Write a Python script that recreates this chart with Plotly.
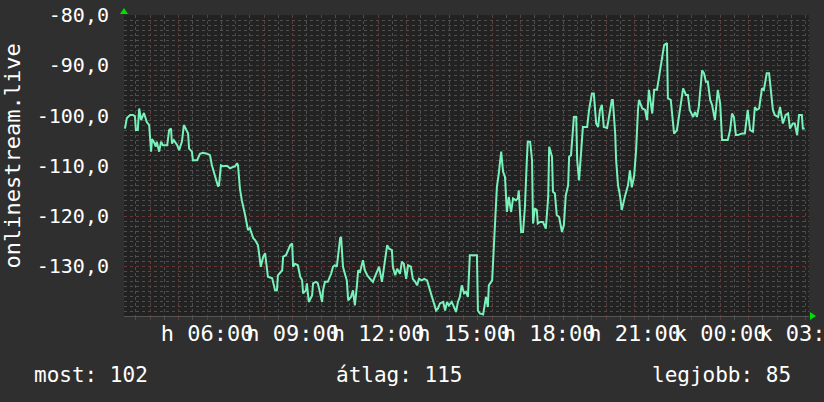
import plotly.graph_objects as go
from datetime import datetime, timedelta

# --- data (minutes after 03:05 on Monday, signal value) ---
start = datetime(2024, 1, 1, 3, 5)
minutes = [2, 6, 13, 19, 23, 25, 29, 32, 36, 42, 48, 53, 57, 59, 63, 67, 69, 74, 78, 82,
           91, 95, 99, 101, 105, 112, 116, 122, 126, 131, 135, 137, 143, 145, 154, 160, 166, 175, 181, 185,
           189, 194, 198, 200, 204, 208, 217, 223, 229, 234, 238, 240, 244, 248, 255, 261, 265, 272, 276, 282,
           288, 293, 297, 301, 303, 312, 314, 318, 322, 324, 333, 335, 341, 345, 350, 354, 356, 360, 366, 371,
           375, 377, 383, 385, 389, 396, 398, 404, 408, 413, 417, 419, 423, 429, 436, 440, 444, 448, 455, 457,
           461, 465, 469, 472, 478, 482, 486, 490, 493, 497, 503, 507, 512, 518, 524, 528, 533, 537, 543, 549,
           554, 558, 564, 566, 571, 575, 581, 585, 589, 594, 598, 604, 608, 613, 617, 621, 627, 632, 638, 642,
           646, 651, 657, 661, 665, 672, 676, 680, 684, 690, 694, 699, 703, 707, 711, 716, 720, 724, 728, 735,
           743, 745, 749, 756, 762, 766, 768, 775, 777, 781, 785, 789, 794, 798, 802, 806, 810, 815, 819, 825,
           829, 831, 836, 840, 844, 848, 850, 855, 859, 861, 865, 869, 871, 876, 882, 888, 893, 895, 901, 903,
           907, 911, 916, 922, 926, 930, 935, 937, 941, 945, 947, 952, 954, 958, 962, 964, 966, 975, 979, 985,
           989, 994, 998, 1002, 1006, 1010, 1017, 1021, 1027, 1029, 1034, 1036, 1040, 1044, 1048, 1055, 1061, 1065, 1069, 1074,
           1078, 1082, 1084, 1091, 1097, 1101, 1105, 1112, 1116, 1122, 1128, 1133, 1137, 1143, 1145, 1151, 1156, 1158, 1164, 1168,
           1172, 1177, 1183, 1187, 1191, 1198, 1202, 1206, 1210, 1217, 1221, 1225, 1229, 1234, 1238, 1240, 1244, 1248, 1250, 1255,
           1259, 1265, 1271, 1276, 1280, 1284, 1288, 1292, 1301, 1307, 1311, 1313, 1318, 1324, 1328, 1332, 1337, 1343, 1347, 1353,
           1358, 1362, 1366, 1370, 1377, 1381, 1385, 1387, 1393, 1398, 1402, 1408, 1412, 1417, 1421, 1427, 1429, 1433]
values = [-102.6, -100.5, -99.9, -99.9, -100.1, -102.9, -102.9, -98.6, -100.9, -99.5, -101.3, -101.9, -107.2, -104.7, -105.3, -106.2, -105.2, -107.2, -105.2, -105.9,
          -105.9, -102.9, -102.6, -105.6, -104.9, -105.9, -106.9, -105.2, -101.9, -102.9, -103.6, -106.6, -107.2, -108.9, -108.9, -107.6, -107.4, -107.6, -107.9, -109.9,
          -111.2, -112.9, -114.1, -113.9, -109.9, -110.1, -110.0, -110.5, -110.3, -110.1, -109.5, -109.9, -114.5, -116.9, -119.8, -122.8, -122.4, -124.4, -124.8, -125.8,
          -130.1, -128.1, -127.4, -130.1, -132.1, -132.4, -133.4, -134.8, -134.8, -131.8, -130.8, -128.1, -127.8, -126.8, -125.8, -125.5, -130.1, -129.5, -129.8, -132.1,
          -132.8, -135.4, -134.8, -133.4, -137.1, -135.8, -133.4, -133.1, -133.4, -135.4, -137.1, -134.8, -133.1, -133.1, -131.5, -130.1, -129.8, -130.1, -124.4, -124.2,
          -130.1, -131.5, -132.8, -136.8, -136.1, -134.8, -137.8, -134.1, -130.8, -131.1, -128.8, -130.8, -131.8, -132.5, -133.1, -132.1, -131.1, -130.1, -133.1, -129.1,
          -125.8, -126.5, -126.8, -130.1, -131.8, -130.5, -131.5, -129.1, -129.5, -132.5, -129.8, -130.1, -132.5, -133.1, -133.8, -132.5, -132.8, -132.5, -132.8, -134.1,
          -135.4, -137.1, -138.8, -138.4, -137.4, -137.1, -138.8, -137.1, -137.8, -137.1, -138.1, -139.1, -137.1, -136.1, -133.8, -135.4, -135.1, -136.1, -127.8, -127.8,
          -127.8, -138.8, -139.4, -139.6, -136.1, -138.1, -133.8, -132.8, -129.1, -120.8, -114.2, -111.5, -107.2, -111.2, -112.2, -119.2, -116.2, -119.2, -116.5, -116.9,
          -116.5, -114.9, -123.2, -123.2, -118.2, -108.9, -105.2, -105.2, -108.9, -121.5, -118.5, -118.8, -121.5, -121.2, -121.2, -122.5, -116.2, -106.2, -108.2, -115.2,
          -115.5, -119.8, -120.2, -123.2, -121.8, -115.9, -113.9, -108.2, -107.9, -102.9, -100.3, -100.3, -108.9, -112.9, -107.9, -103.6, -102.3, -102.3, -98.9, -95.6,
          -95.6, -101.6, -102.3, -98.9, -97.9, -102.3, -102.5, -100.3, -96.9, -96.9, -103.6, -108.9, -113.9, -115.9, -118.8, -115.9, -113.9, -110.9, -114.3, -111.9,
          -106.9, -98.9, -96.9, -98.6, -98.9, -100.9, -94.9, -99.6, -94.9, -94.9, -91.0, -88.6, -86.0, -85.6, -96.6, -96.9, -100.9, -103.6, -102.9, -100.3,
          -97.3, -94.6, -95.9, -95.9, -98.9, -100.3, -99.3, -100.3, -98.3, -91.0, -91.6, -93.3, -93.3, -96.9, -97.9, -98.9, -100.9, -96.9, -94.9, -97.6,
          -104.9, -104.9, -104.9, -102.9, -99.6, -100.3, -103.9, -103.9, -103.6, -103.6, -100.3, -98.9, -102.9, -103.2, -98.3, -98.9, -98.6, -94.6, -94.9, -91.6,
          -91.6, -95.3, -98.9, -99.9, -100.3, -98.3, -100.9, -101.6, -99.9, -99.6, -102.6, -101.6, -101.6, -103.9, -99.9, -99.9, -102.6, -102.6]

y_tick_vals = [-80, -90, -100, -110, -120, -130]
y_tick_text = ["-80,0", "-90,0", "-100,0", "-110,0", "-120,0", "-130,0"]
x_label_hours = {6: "h 06:00", 9: "h 09:00", 12: "h 12:00", 15: "h 15:00", 18: "h 18:00",
                 21: "h 21:00", 24: "k 00:00", 27: "k 03:00"}
legend_items = ["most: 102", "átlag: 115", "legjobb: 85"]
series_name = "onlinestream.live"

times = [start + timedelta(minutes=m) for m in minutes]
day0 = datetime(2024, 1, 1)
tick_vals = [day0 + timedelta(hours=h) for h in range(4, 28)]
tick_text = [x_label_hours.get(h, "") for h in range(4, 28)]

BG = "#2f2f2f"
CANVAS = "#222222"
LINE = "#78f2ba"
MAJOR = "#6a3636"
MINOR = "#4e4e4e"
FONT = "DejaVu Sans Mono"

fig = go.Figure()
fig.add_trace(go.Scatter(x=times, y=values, mode="lines",
                         line=dict(color=LINE, width=2, shape="linear"),
                         hoverinfo="skip", showlegend=False))

fig.update_layout(
    width=824, height=402,
    margin=dict(l=124, r=15, t=15, b=86, autoexpand=False),
    paper_bgcolor=BG, plot_bgcolor=CANVAS,
    font=dict(family=FONT, color="white", size=20),
    showlegend=False,
)
fig.update_xaxes(
    type="date", automargin=False,
    range=[start, start + timedelta(minutes=1442)],
    tickvals=tick_vals, ticktext=tick_text, tickangle=0,
    tickfont=dict(size=22, family=FONT, color="white"),
    ticklabeloverflow="allow", ticklabelstandoff=-5,
    showgrid=True, gridcolor=MAJOR, griddash="dot", gridwidth=1,
    ticks="outside", ticklen=3, tickcolor=MAJOR,
    minor=dict(showgrid=True, gridcolor=MINOR, griddash="dot",
               dtick=30 * 60 * 1000, tick0="2024-01-01 03:00",
               ticks="outside", ticklen=3, tickcolor=MINOR),
    showline=True, linecolor="#555555", linewidth=1,
    zeroline=False, fixedrange=True,
)
fig.update_yaxes(
    automargin=False,
    range=[-139.9, -80],
    tickvals=y_tick_vals, ticktext=y_tick_text,
    tickfont=dict(size=20, family=FONT, color="white"),
    ticklabelstandoff=14,
    showgrid=True, gridcolor=MAJOR, griddash="dot", gridwidth=1,
    minor=dict(showgrid=True, gridcolor=MINOR, griddash="dot", dtick=1, tick0=0),
    showline=False, zeroline=False, fixedrange=True,
)

# rotated series label
fig.add_annotation(text=series_name, textangle=-90, xref="paper", yref="paper",
                   x=-0.1635, y=0.53, xanchor="center", yanchor="middle", showarrow=False,
                   font=dict(size=22, family=FONT, color="white"))

# legend line
for txt, xp in zip(legend_items, [-0.134, 0.3066, 0.768]):
    fig.add_annotation(text=txt, xref="paper", yref="paper", x=xp, y=-0.196,
                       xanchor="left", yanchor="middle", showarrow=False,
                       font=dict(size=21, family=FONT, color="white"))

# green axis arrows
fig.add_shape(type="path", xref="paper", yref="paper", xsizemode="pixel", ysizemode="pixel",
              xanchor=0, yanchor=1, path="M -4,1 L 4,1 L 0,7 Z",
              fillcolor="#00e000", line=dict(width=0))
fig.add_shape(type="path", xref="paper", yref="paper", xsizemode="pixel", ysizemode="pixel",
              xanchor=1, yanchor=0, path="M 1,-4 L 1,4 L 7,0 Z",
              fillcolor="#00e000", line=dict(width=0))

fig.write_html("out.html", config={"displayModeBar": False},
               post_script="document.body.style.margin='0px';document.body.style.background='%s';" % BG)
